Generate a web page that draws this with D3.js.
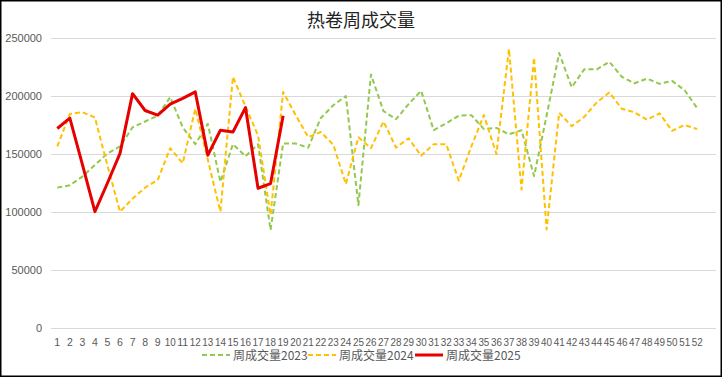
<!DOCTYPE html>
<html>
<head>
<meta charset="utf-8">
<script src="https://cdn.jsdelivr.net/npm/d3@7"></script>
<style>
  body { margin: 0; background: #fff; }
  svg { display: block; }
  .tick text { font-family: "Liberation Sans", Arial, sans-serif; fill: #595959; }
</style>
</head>
<body>
<svg id="chart"></svg>
<script>
const weeks = ["1","2","3","4","5","6","7","8","9","10","11","12","13","14","15","16","17","18","19","20",
  "21","22","23","24","25","26","27","28","29","30","31","32","33","34","35","36","37","38","39","40",
  "41","42","43","44","45","46","47","48","49","50","51","52"];

const vol2023 = [121000,123000,130500,140500,150500,156500,173000,178000,183000,199000,
  173000,158500,176000,126000,158500,148000,158500,84500,159000,159000,
  155500,181000,192000,200000,106000,218500,187000,180000,193000,204500,
  170500,176500,183000,183500,171500,172500,167000,170500,131000,183000,
  237000,207500,223000,223000,229500,216500,211000,215000,210500,213000,
  205000,189500];

const vol2024 = [156500,184500,186000,181500,140000,100300,111500,121000,127500,155000,
  142000,189000,145000,100300,216500,191000,166000,97500,203500,183500,
  164500,169000,158000,124000,164500,155000,178000,155500,163500,148500,
  158500,158500,127000,156500,183500,150000,240500,119500,233000,85000,
  185500,174000,182000,194500,203000,189000,186000,179500,185000,170000,
  175000,171500];

const vol2025 = [172000,181000,141000,100300,125000,150500,202000,187500,183500,193000,
  198000,203500,149000,170500,169000,190000,120500,124500,183000];

const yTicks = [0, 50000, 100000, 150000, 200000, 250000];

const series = [
  { name: "周成交量2023", values: vol2023, color: "#92C84E", dash: "5,3", width: 2 },
  { name: "周成交量2024", values: vol2024, color: "#FFC000", dash: "5,3", width: 2 },
  { name: "周成交量2025", values: vol2025, color: "#E60000", dash: null, width: 3 }
];

const W = 722, H = 377;
const plotLeft = 51, plotRight = 716, plotTop = 38, plotBottom = 328;

const svg = d3.select("#chart").attr("width", W).attr("height", H);

svg.append("rect")
  .attr("x", 0.75).attr("y", 0.75)
  .attr("width", W - 1.5).attr("height", H - 1.5)
  .attr("fill", "#fff").attr("stroke", "#000").attr("stroke-width", 1.5);

// an extra empty slot at the end, as in the source sheet
const x = d3.scaleBand().domain(weeks.concat([" "])).range([plotLeft, plotRight]).padding(0);
const y = d3.scaleLinear().domain([0, 250000]).range([plotBottom, plotTop]);
const cx = i => x(weeks[i]) + x.bandwidth() / 2;

const yAxis = svg.append("g")
  .attr("transform", `translate(${plotLeft},0)`)
  .call(d3.axisLeft(y).tickValues(yTicks).tickSize(-(plotRight - plotLeft)).tickPadding(9).tickFormat(d3.format("d")));
yAxis.select(".domain").remove();
yAxis.selectAll(".tick line").attr("stroke", "#d9d9d9");
yAxis.selectAll(".tick text").attr("font-size", 11);

const xAxis = svg.append("g")
  .attr("transform", `translate(0,${plotBottom})`)
  .call(d3.axisBottom(x).tickValues(weeks).tickSize(0).tickPadding(11));
xAxis.select(".domain").remove();
xAxis.selectAll(".tick text")
  .attr("font-size", 10.5)
  .filter(d => d.length > 1)
  .attr("font-size", 10.1)
  .attr("textLength", 11)
  .attr("lengthAdjust", "spacingAndGlyphs");

const line = d3.line()
  .x((d, i) => cx(i))
  .y(d => y(d));

series.forEach(s => {
  svg.append("path")
    .datum(s.values)
    .attr("fill", "none")
    .attr("stroke", s.color)
    .attr("stroke-width", s.width)
    .attr("stroke-dasharray", s.dash)
    .attr("stroke-linejoin", "round")
    .attr("d", line);
});

svg.append("text")
  .attr("x", 361).attr("y", 27)
  .attr("text-anchor", "middle")
  .attr("font-family", "'Noto Sans CJK SC', sans-serif")
  .attr("font-size", 18)
  .attr("fill", "#222")
  .text("热卷周成交量");

// legend
const legendX = [202, 308, 415];
const legend = svg.append("g")
  .selectAll("g")
  .data(series)
  .enter()
  .append("g")
  .attr("transform", (d, i) => `translate(${legendX[i]},355)`);

legend.append("line")
  .attr("x1", 0).attr("x2", 28)
  .attr("stroke", d => d.color)
  .attr("stroke-width", d => d.width)
  .attr("stroke-dasharray", d => d.dash);

legend.append("text")
  .attr("x", 31).attr("y", 4.5)
  .attr("font-family", "'Noto Sans CJK SC', sans-serif")
  .attr("font-size", 12)
  .attr("fill", "#595959")
  .text(d => d.name);
</script>
</body>
</html>
